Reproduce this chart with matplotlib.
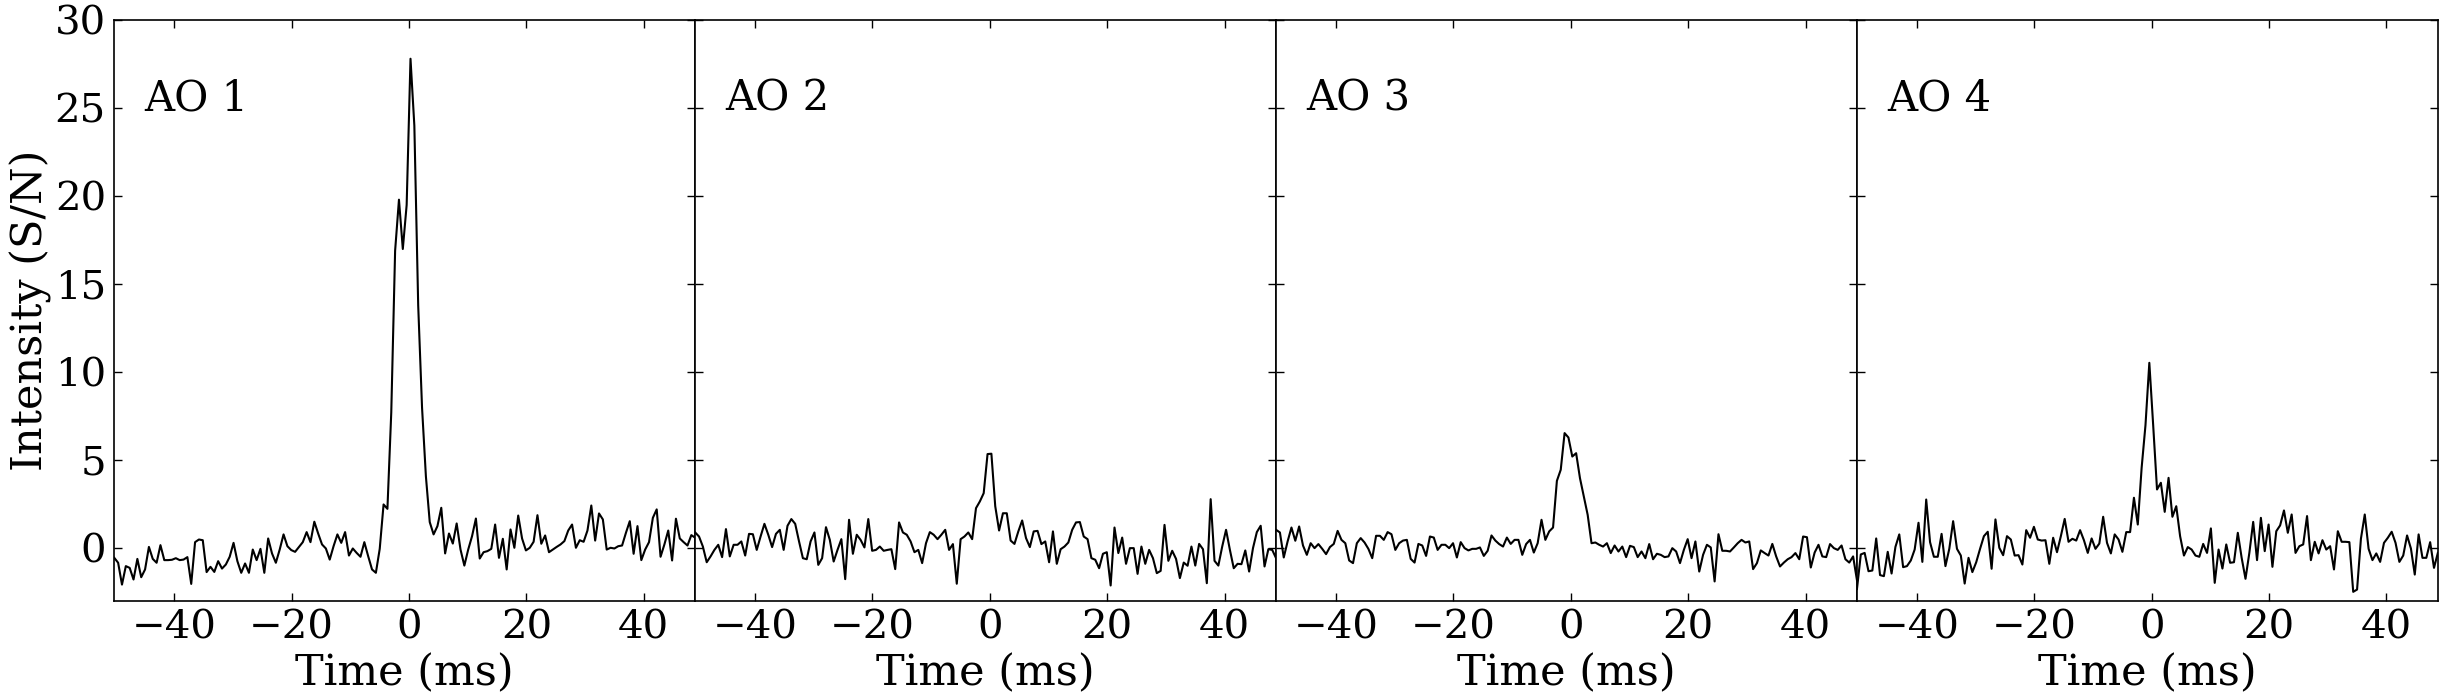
import matplotlib
matplotlib.use("Agg")
import matplotlib.pyplot as plt
import numpy as np

# ---------------------------------------------------------------------------
# Pulse profiles, S/N per time bin
# ---------------------------------------------------------------------------
T0_MS = -50.2  # time of first bin
DT_MS = 0.65536  # bin width

panel_names = ["AO 1", "AO 2", "AO 3", "AO 4"]

ao1 = [
    -0.53, -0.81, -2.05, -1.0, -1.1, -1.76, -0.59, -1.63, -1.19, 0.09,
    -0.59, -0.81, 0.19, -0.66, -0.66, -0.64, -0.55, -0.66, -0.63, -0.49,
    -2.01, 0.36, 0.51, 0.47, -1.34, -1.04, -1.33, -0.72, -1.14, -0.91,
    -0.47, 0.32, -0.72, -1.38, -0.85, -1.38, -0.06, -0.66, -0.02, -1.38,
    0.57, -0.28, -0.81, -0.06, 0.8, 0.13, -0.09, -0.19, 0.09, 0.36,
    0.93, 0.36, 1.52, 0.85, 0.23, 0.0, -0.63, 0.13, 0.8, 0.32,
    0.93, -0.4, 0.0, -0.25, -0.47, 0.36, -0.44, -1.19, -1.38, -0.02,
    2.5, 2.25, 7.73, 16.9, 19.8, 17.0, 19.5, 27.8, 24.0, 13.8,
    8.0, 4.1, 1.5, 0.8, 1.27, 2.31, -0.28, 0.85, 0.28, 1.42,
    -0.06, -0.97, -0.06, 0.7, 1.7, -0.57, -0.21, -0.15, -0.02, 1.36,
    -0.53, 0.55, -1.19, 1.08, 0.04, 1.87, 0.57, -0.11, 0.04, 0.38,
    1.89, 0.27, 0.74, -0.21, -0.06, 0.09, 0.23, 0.42, 1.02, 1.36,
    0.04, 0.47, 0.38, 1.02, 2.44, 0.45, 1.99, 1.65, -0.06, 0.04,
    0.0, 0.13, 0.17, 0.89, 1.55, -0.3, 1.27, -0.66, -0.06, 0.36,
    1.74, 2.22, -0.47, 0.23, 1.02, -0.68, 1.69, 0.57, 0.36, 0.17,
    0.76, 0.61,
]

ao2 = [
    0.91, 0.68, 0.11, -0.78, -0.45, -0.08, 0.21, -0.49, 1.1, -0.45,
    0.21, 0.21, 0.4, -0.4, 0.83, 0.81, -0.08, 0.68, 1.4, 0.78,
    0.08, 0.83, 1.06, -0.08, 1.29, 1.67, 1.4, 0.4, -0.55, -0.61,
    0.4, 0.91, -0.93, -0.55, 1.21, 0.49, -0.74, -0.08, 0.53, -1.74,
    1.63, -0.3, 0.78, 0.49, 0.06, 1.67, -0.13, -0.08, 0.11, -0.13,
    -0.08, -0.04, -1.17, 1.48, 0.91, 0.78, 0.4, -0.21, -0.08, -0.83,
    0.3, 0.93, 0.78, 0.53, 0.78, 1.06, -0.08, 0.25, -2.0, 0.53,
    0.68, 0.91, 0.53, 2.29, 2.67, 3.14, 5.36, 5.38, 2.4, 1.02,
    2.0, 2.0, 0.45, 0.26, 0.97, 1.59, 0.59, 0.08, 0.97, 1.0,
    0.25, 0.4, -0.78, 0.97, -0.87, -0.04, 0.11, 0.34, 1.06, 1.48,
    1.5, 0.68, 0.53, -0.55, -0.64, -1.12, -0.3, -0.21, -2.1, 1.19,
    -0.26, 0.62, -0.87, 0.02, 0.02, -1.44, 0.11, -0.87, -0.08, -0.55,
    -1.4, -1.27, 1.34, -0.7, -0.13, -0.59, -1.68, -0.8, -0.98, 0.11,
    -0.97, 0.26, -0.04, -1.97, 2.8, -0.7, -0.97, 0.11, 1.06, -0.08,
    -1.12, -0.87, -0.89, -0.11, -1.31, 0.02, 0.93, 1.29, -1.02, -0.04,
    -0.08, -0.55,
]

ao3 = [
    1.06, 0.91, -0.51, 0.4, 1.19, 0.44, 1.25, 0.17, -0.36, 0.3,
    0.02, 0.25, -0.02, -0.32, 0.08, 0.26, 1.0, 0.49, 0.3, -0.68,
    -0.83, 0.3, 0.59, 0.34, -0.02, -0.55, 0.72, 0.72, 0.49, 0.93,
    0.81, -0.08, 0.3, 0.45, 0.49, -0.59, -0.8, 0.26, 0.17, -0.42,
    0.68, 0.62, -0.08, 0.21, 0.21, 0.02, 0.3, -0.51, 0.36, 0.02,
    -0.11, -0.02, -0.02, 0.06, -0.42, -0.13, 0.74, 0.45, 0.25, 0.11,
    0.62, 0.26, 0.49, 0.49, -0.36, 0.25, 0.49, -0.23, 0.3, 1.63,
    0.49, 0.97, 1.19, 3.84, 4.47, 6.55, 6.3, 5.22, 5.41, 3.99,
    2.95, 1.91, 0.3, 0.34, 0.21, 0.11, 0.3, -0.26, 0.17, -0.17,
    0.11, -0.49, 0.15, 0.08, -0.49, -0.17, -0.55, 0.25, -0.61, -0.3,
    -0.36, -0.49, -0.45, 0.02, -0.17, -0.83, -0.08, 0.53, -0.55, 0.4,
    -1.31, -0.36, 0.21, 0.06, -1.87, 0.81, -0.13, -0.13, -0.17, 0.06,
    0.3, 0.49, 0.34, 0.4, -1.17, -0.83, -0.11, -0.26, -0.4, 0.26,
    -0.45, -1.02, -0.8, -0.61, -0.49, -0.26, -0.61, 0.68, 0.64, -1.08,
    -0.23, 0.21, -0.45, -0.49, 0.25, 0.02, -0.08, 0.17, -0.61, -0.8,
    -0.45, -1.8,
]

ao4 = [
    -2.3, -0.34, -0.25, -1.29, -1.25, 0.57, -1.51, -1.57, -0.19, -1.42,
    0.09, 0.8, -1.06, -1.0, -0.68, -0.06, 1.46, -0.76, 2.78, 0.36,
    -0.47, -0.47, 0.83, -1.0, -0.02, 1.55, -0.02, -0.4, -1.99, -0.53,
    -1.34, -0.78, -0.02, 0.7, 0.95, -1.15, 1.65, 0.04, -0.38, 0.7,
    0.51, -0.4, -0.38, -0.91, 1.04, 0.61, 1.23, 0.51, 0.45, 0.47,
    -0.87, 0.61, -0.21, 0.7, 1.68, 0.38, 0.55, 0.45, 1.04, 0.47,
    -0.25, 0.57, -0.02, 0.28, 1.8, 0.32, -0.28, 0.8, 0.51, -0.19,
    0.93, 0.93, 2.88, 1.36, 4.58, 7.0, 10.54, 7.0, 3.35, 3.73,
    2.08, 4.01, 1.8, 2.4, 0.7, -0.4, 0.08, -0.06, -0.4, -0.47,
    0.26, -0.25, 1.14, -1.95, -0.06, -1.14, 0.23, -0.81, -0.78, 0.89,
    -0.53, -1.72, -0.25, 1.51, -0.66, 1.74, -0.15, 1.36, -1.04, 0.98,
    1.31, 2.16, 0.89, 1.93, -0.25, 0.13, 0.23, 1.84, -0.66, 0.38,
    -0.28, 0.47, -0.06, 0.13, -1.19, 0.98, 0.38, 0.38, 0.36, -2.46,
    -2.33, 0.55, 1.93, -0.02, -0.66, -0.28, -0.76, 0.32, 0.61, 0.95,
    0.32, -0.76, -0.4, 0.74, 0.0, -1.48, 0.8, -0.53, -0.53, 0.36,
    -1.1, -0.25,
]

x_ticks = [-40, -20, 0, 20, 40]
y_ticks = [0, 5, 10, 15, 20, 25, 30]


def main():
    plt.rcParams["font.family"] = "DejaVu Serif"
    plt.rcParams["mathtext.fontset"] = "dejavuserif"

    profiles = [ao1, ao2, ao3, ao4]
    n_bins = len(ao1)
    time_ms = T0_MS + DT_MS * np.arange(n_bins)

    fig, axes = plt.subplots(1, 4, sharey=True, figsize=(24.42, 6.96), dpi=100)
    fig.subplots_adjust(left=0.0468, right=0.9983, top=0.9713, bottom=0.136, wspace=0)

    for ax, name, prof in zip(axes, panel_names, profiles):
        ax.plot(time_ms, prof, color="black", linewidth=1.5)
        ax.set_xlim(time_ms[0], time_ms[-1])
        ax.set_ylim(-3, 30)
        ax.set_xticks(x_ticks)
        ax.set_yticks(y_ticks)
        ax.tick_params(direction="in", top=True, right=True, length=6, width=1,
                       labelsize=29, pad=6)
        for sp in ax.spines.values():
            sp.set_linewidth(1.2)
        ax.set_xlabel("Time (ms)", fontsize=31, labelpad=4)
        ax.text(0.052, 0.845, name, transform=ax.transAxes, fontsize=30,
                va="baseline", ha="left")

    axes[0].set_ylabel("Intensity (S/N)", fontsize=31, labelpad=2)

    fig.savefig("out.png", dpi=100)


if __name__ == "__main__":
    main()
